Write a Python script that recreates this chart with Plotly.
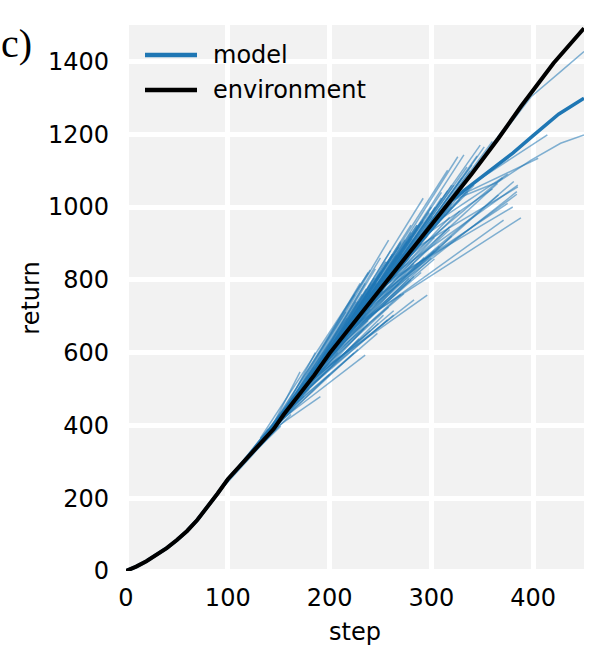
import plotly.graph_objects as go

# environment return curve
env_step = [0, 10, 20, 30, 40, 50, 60, 70, 80, 90, 100, 110, 120, 135, 145, 155, 170, 185, 200,
            220, 240, 260, 280, 300, 320, 340, 366, 388, 420, 450]
env_return = [0, 12, 27, 44, 63, 85, 110, 140, 175, 213, 252, 283, 312, 362, 390, 430, 485, 538, 598,
              668, 740, 810, 880, 950, 1021, 1092, 1189, 1276, 1395, 1491]

# long model rollout (thick line)
model_step = [0, 10, 20, 30, 40, 50, 60, 70, 80, 90, 100, 110, 120, 135, 145, 155, 170, 185, 200,
              220, 240, 260, 280, 300, 320, 340, 360, 380, 400, 425, 450]
model_return = [0, 12, 27, 44, 63, 85, 110, 140, 175, 213, 252, 283, 312, 362, 390, 430, 485, 538, 598,
                668, 740, 810, 880, 950, 1018, 1062, 1104, 1148, 1196, 1255, 1299]

# short model rollouts branching from the environment trajectory
rollout_steps = [
    [90, 140], [92, 150], [95, 150], [100, 155], [100, 148], [105, 160], [110, 165], [110, 152],
    [115, 170], [120, 175], [120, 162], [125, 180], [130, 185], [130, 175], [140, 171], [132, 240],
    [140, 238], [150, 186], [150, 230], [155, 225], [160, 258], [165, 250], [170, 245], [175, 235],
    [180, 292], [185, 260], [190, 270], [195, 255], [200, 280], [205, 316], [210, 290], [215, 300],
    [220, 326], [225, 310], [230, 332], [240, 348], [245, 320], [250, 335], [260, 340], [270, 345],
    [280, 352], [290, 360], [300, 370], [310, 350, 388], [355, 398, 427, 450],
    [140, 220], [150, 215], [160, 235], [170, 250], [180, 260], [190, 270], [200, 285], [210, 295],
    [145, 205], [155, 228], [165, 240], [175, 255], [185, 265], [195, 275], [205, 290], [220, 300],
    [230, 310], [240, 320], [250, 330], [260, 345],
    [140, 200], [145, 191], [150, 235], [155, 247], [160, 253], [165, 257], [170, 263], [175, 240],
    [180, 283], [185, 296], [190, 270], [195, 280], [200, 300], [205, 290], [210, 320], [215, 371],
    [220, 388], [225, 366], [230, 384], [235, 381], [240, 384], [245, 365], [250, 375], [255, 380],
    [260, 385], [270, 370], [280, 385], [290, 360], [300, 375], [320, 405],
    [320, 365, 398, 427, 450], [330, 414],
    [135, 200], [138, 205], [142, 210], [146, 208], [148, 215], [152, 222], [154, 218], [158, 230],
    [162, 226], [164, 238], [168, 236], [172, 246], [174, 242], [178, 250], [182, 248], [186, 256],
    [188, 252], [192, 262], [196, 260], [198, 268], [202, 266], [206, 274], [208, 272], [212, 280],
    [216, 278], [218, 286], [222, 284], [226, 292], [228, 290], [232, 298], [236, 296], [238, 304],
    [242, 302], [246, 310], [248, 308], [252, 316], [256, 314], [262, 322], [266, 320], [272, 330],
    [276, 328], [284, 338], [288, 336], [294, 344], [298, 342],
    [145, 230], [150, 240], [158, 245], [163, 232], [168, 228], [173, 236], [178, 244], [183, 250],
    [188, 258], [193, 262], [198, 270], [203, 276], [208, 280], [213, 286], [218, 292],
    [136, 216], [139, 224], [142, 217], [144, 234], [147, 217], [149, 229], [151, 236], [153, 228],
    [156, 226], [158, 248], [161, 241], [163, 238], [166, 251], [168, 238], [171, 251], [173, 263],
    [176, 241], [178, 258], [181, 256], [183, 268], [186, 246], [188, 278], [191, 266], [193, 273],
    [196, 251], [198, 283], [201, 271], [203, 283], [206, 266], [208, 293], [211, 281], [213, 303],
    [216, 266], [218, 303], [221, 286], [223, 303], [226, 281], [228, 318], [231, 301], [233, 308],
    [236, 286], [238, 318], [241, 301], [243, 318], [246, 301], [248, 328],
]
rollout_returns = [
    [213, 390], [220, 398], [230, 405], [252, 440], [252, 392], [268, 455], [283, 480], [283, 398],
    [297, 470], [312, 515], [312, 430], [328, 500], [346, 560], [346, 480], [378, 547], [365, 827],
    [378, 820], [410, 600], [410, 790], [430, 760], [448, 909], [467, 860], [485, 830], [502, 790],
    [520, 1024], [538, 880], [556, 905], [578, 850], [598, 950], [615, 1101], [632, 960], [650, 1000],
    [668, 1138], [685, 1040], [703, 1143], [740, 1170], [758, 1060], [776, 1110], [810, 1115], [845, 1140],
    [880, 1165], [915, 1180], [950, 1210], [986, 1130, 1277], [1147, 1303, 1372, 1427],
    [378, 680], [410, 660], [448, 720], [485, 785], [520, 815], [556, 850], [598, 890], [632, 930],
    [390, 610], [430, 690], [467, 735], [502, 790], [538, 820], [578, 860], [615, 900], [668, 950],
    [703, 980], [740, 1010], [776, 1040], [810, 1075],
    [378, 540], [390, 479], [410, 593], [430, 653], [448, 703], [467, 690], [485, 703], [502, 660],
    [520, 745], [538, 758], [556, 760], [578, 800], [598, 860], [615, 820], [632, 920], [650, 964],
    [668, 970], [685, 1033], [703, 1042], [720, 1070], [740, 1035], [758, 1065], [776, 1010], [793, 1000],
    [810, 1060], [845, 1080], [880, 1055], [915, 1050], [950, 1090], [1021, 1134],
    [1018, 1068, 1129, 1175, 1198], [1045, 1198],
    [364, 590], [373, 625], [385, 640], [395, 600], [400, 650], [418, 690], [425, 640], [440, 730],
    [455, 680], [463, 760], [478, 710], [492, 790], [498, 730], [512, 820], [527, 760], [541, 850],
    [549, 770], [564, 870], [580, 800], [590, 890], [605, 830], [618, 910], [625, 850], [640, 930],
    [653, 860], [661, 950], [675, 890], [689, 965], [696, 900], [710, 985], [725, 920], [732, 1000],
    [747, 940], [761, 1025], [768, 960], [783, 1045], [797, 980], [818, 1060], [831, 1000], [852, 1080],
    [866, 1020], [894, 1100], [908, 1040], [929, 1110], [943, 1060],
    [390, 700], [410, 720], [440, 770], [460, 760], [478, 740], [495, 775], [512, 805], [530, 800],
    [549, 850], [570, 870], [590, 900], [608, 905], [625, 920], [645, 950], [661, 960],
    [368, 712], [378, 599], [389, 681], [396, 666], [407, 694], [414, 638], [421, 736], [428, 608],
    [439, 740], [446, 680], [456, 768], [463, 688], [474, 823], [481, 677], [492, 788], [499, 715],
    [510, 790], [517, 725], [527, 820], [534, 789], [545, 791], [552, 804], [563, 841], [570, 762],
    [581, 818], [588, 809], [598, 871], [605, 845], [616, 862], [623, 861], [634, 893], [641, 857],
    [652, 867], [659, 880], [669, 922], [676, 916], [687, 912], [694, 946], [705, 964], [712, 892],
    [723, 938], [730, 938], [740, 974], [747, 972], [758, 984], [765, 989],
]

x_ticks = [0, 100, 200, 300, 400]
y_ticks = [0, 200, 400, 600, 800, 1000, 1200, 1400]
legend_labels = ["model", "environment"]

BLUE = "#1f77b4"
FONT = "DejaVu Sans"
FS = 24

fig = go.Figure()
for xs, ys in zip(rollout_steps, rollout_returns):
    fig.add_trace(go.Scatter(x=xs, y=ys, mode="lines", showlegend=False, hoverinfo="skip",
                             line=dict(color="rgba(31,119,180,0.55)", width=1.5)))
fig.add_trace(go.Scatter(x=model_step, y=model_return, mode="lines", name=legend_labels[0],
                         showlegend=False, line=dict(color=BLUE, width=3.5)))
fig.add_trace(go.Scatter(x=env_step, y=env_return, mode="lines", name=legend_labels[1],
                         showlegend=False, line=dict(color="black", width=4)))

L, R, T, B = 126, 25, 25, 89
W, H = 609, 660
pw, ph = W - L - R, H - T - B


def px2x(px):
    return (px - L) / pw


def py2y(py):
    return (H - B - py) / ph


# custom legend (no frame)
for i, (lab, col) in enumerate(zip(legend_labels, [BLUE, "black"])):
    yy = py2y(55 + 35 * i)
    fig.add_shape(type="line", xref="paper", yref="paper", x0=px2x(145), x1=px2x(197), y0=yy, y1=yy,
                  line=dict(color=col, width=4.5))
    fig.add_annotation(text=lab, xref="paper", yref="paper", x=px2x(211), y=yy, xanchor="left",
                       yanchor="middle", showarrow=False, font=dict(family=FONT, size=FS, color="black"))

fig.add_annotation(text="c)", xref="paper", yref="paper", x=px2x(-1), y=py2y(43), xanchor="left",
                   yanchor="middle", showarrow=False,
                   font=dict(family="Liberation Serif", size=40, color="black"))

axis_common = dict(showgrid=True, gridcolor="white", gridwidth=4.5, zeroline=True, zerolinecolor="white",
                   zerolinewidth=4.5, showline=False, ticks="", tickfont=dict(family=FONT, size=FS, color="black"),
                   fixedrange=True)
fig.update_xaxes(range=[0, 450], tickvals=x_ticks, ticklabelstandoff=10,
                 title=dict(text="step", font=dict(family=FONT, size=FS, color="black"), standoff=12),
                 **axis_common)
fig.update_yaxes(range=[0, 1500], tickvals=y_ticks, ticklabelstandoff=16,
                 title=dict(text="return", font=dict(family=FONT, size=FS, color="black"), standoff=1),
                 **axis_common)
fig.update_layout(width=W, height=H, margin=dict(l=L, r=R, t=T, b=B, autoexpand=False),
                  plot_bgcolor="#f2f2f2", paper_bgcolor="white", showlegend=False,
                  font=dict(family=FONT, size=FS, color="black"))
fig.write_html("out.html", config={"displayModeBar": False},
               post_script="document.body.style.margin='0';document.body.style.padding='0';")
